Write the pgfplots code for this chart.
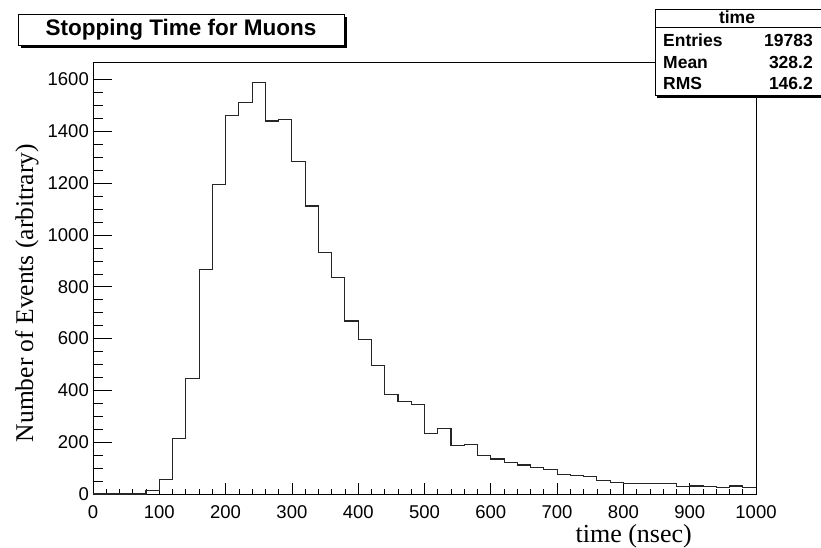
\documentclass[border=0pt]{standalone}
\usepackage{fontspec}
\setmainfont{Liberation Serif}
\newfontfamily\arial{Liberation Sans}
\usepackage{pgfplots}
\pgfplotsset{compat=1.18}
\begin{document}
\begin{tikzpicture}[x=1pt,y=1pt]
\path[use as bounding box] (-93,-54) rectangle (728,494);
\begin{axis}[
  at={(0,0)}, anchor=south west,
  scale only axis, width=663pt, height=432pt,
  xmin=0, xmax=1000, ymin=0, ymax=1668,
  axis line style={line width=0.9pt},
  xtick distance=100, ytick distance=200,
  minor x tick num=4, minor y tick num=3,
  xtick pos=bottom, ytick pos=left,
  tick align=inside,
  tick style={black, line width=0.7pt},
  xtick style={/pgfplots/major tick length=11pt,/pgfplots/minor tick length=5pt},
  ytick style={/pgfplots/major tick length=19pt,/pgfplots/minor tick length=10pt},
  /pgf/number format/1000 sep={},
  /pgf/number format/assume math mode=true,
  tick label style={font=\arial\fontsize{18.5}{18.5}\selectfont},
  yticklabel style={inner sep=0pt, xshift=-4pt},
  xticklabel style={inner sep=0pt, yshift=-11pt},
  clip=false,
]
\addplot[const plot mark left, line width=1.1pt, color=black!85] coordinates {
(0,0) (20,0) (40,0) (60,0) (80,15) (100,55) (120,215) (140,447) (160,868) (180,1194)
(200,1461) (220,1510) (240,1590) (260,1440) (280,1446) (300,1283) (320,1112) (340,932)
(360,835) (380,668) (400,595) (420,495) (440,383) (460,357) (480,344) (500,235)
(520,253) (540,186) (560,190) (580,148) (600,135) (620,122) (640,112) (660,103)
(680,93) (700,77) (720,73) (740,68) (760,51) (780,46) (800,39) (820,39) (840,42)
(860,39) (880,28) (900,31) (920,28) (940,26) (960,31) (980,26) (1000,26)
};
\end{axis}
% axis titles
\node[rotate=90, font=\fontsize{25.5}{25.5}\selectfont, inner sep=0pt] at (-66,201) {Number of Events (arbitrary)};
\node[anchor=base east, font=\fontsize{26}{26}\selectfont, inner sep=0pt] at (599,-49) {time (nsec)};
% title box
\fill[black] (-72,446) rectangle (254,477);
\draw[line width=0.8pt, fill=white] (-75,449) rectangle (251,480);
\node[font=\arial\bfseries\fontsize{22.5}{22.5}\selectfont, inner sep=0pt] at (88,464.5) {Stopping Time for Muons};
% stats box
\fill[black] (564,396) rectangle (731,482);
\draw[line width=0.8pt, fill=white] (562,399) rectangle (729,485);
\draw[line width=0.8pt] (562,467) -- (729,467);
\begin{scope}[every node/.style={font=\arial\bfseries\fontsize{17.5}{17.5}\selectfont, inner sep=0pt}]
\node[anchor=base] at (644,470) {time};
\node[anchor=base west] at (570,447) {Entries};
\node[anchor=base east] at (720,447) {19783};
\node[anchor=base west] at (570,425) {Mean};
\node[anchor=base east] at (720,425) {328.2};
\node[anchor=base west] at (570,404) {RMS};
\node[anchor=base east] at (720,404) {146.2};
\end{scope}
\end{tikzpicture}
\end{document}
